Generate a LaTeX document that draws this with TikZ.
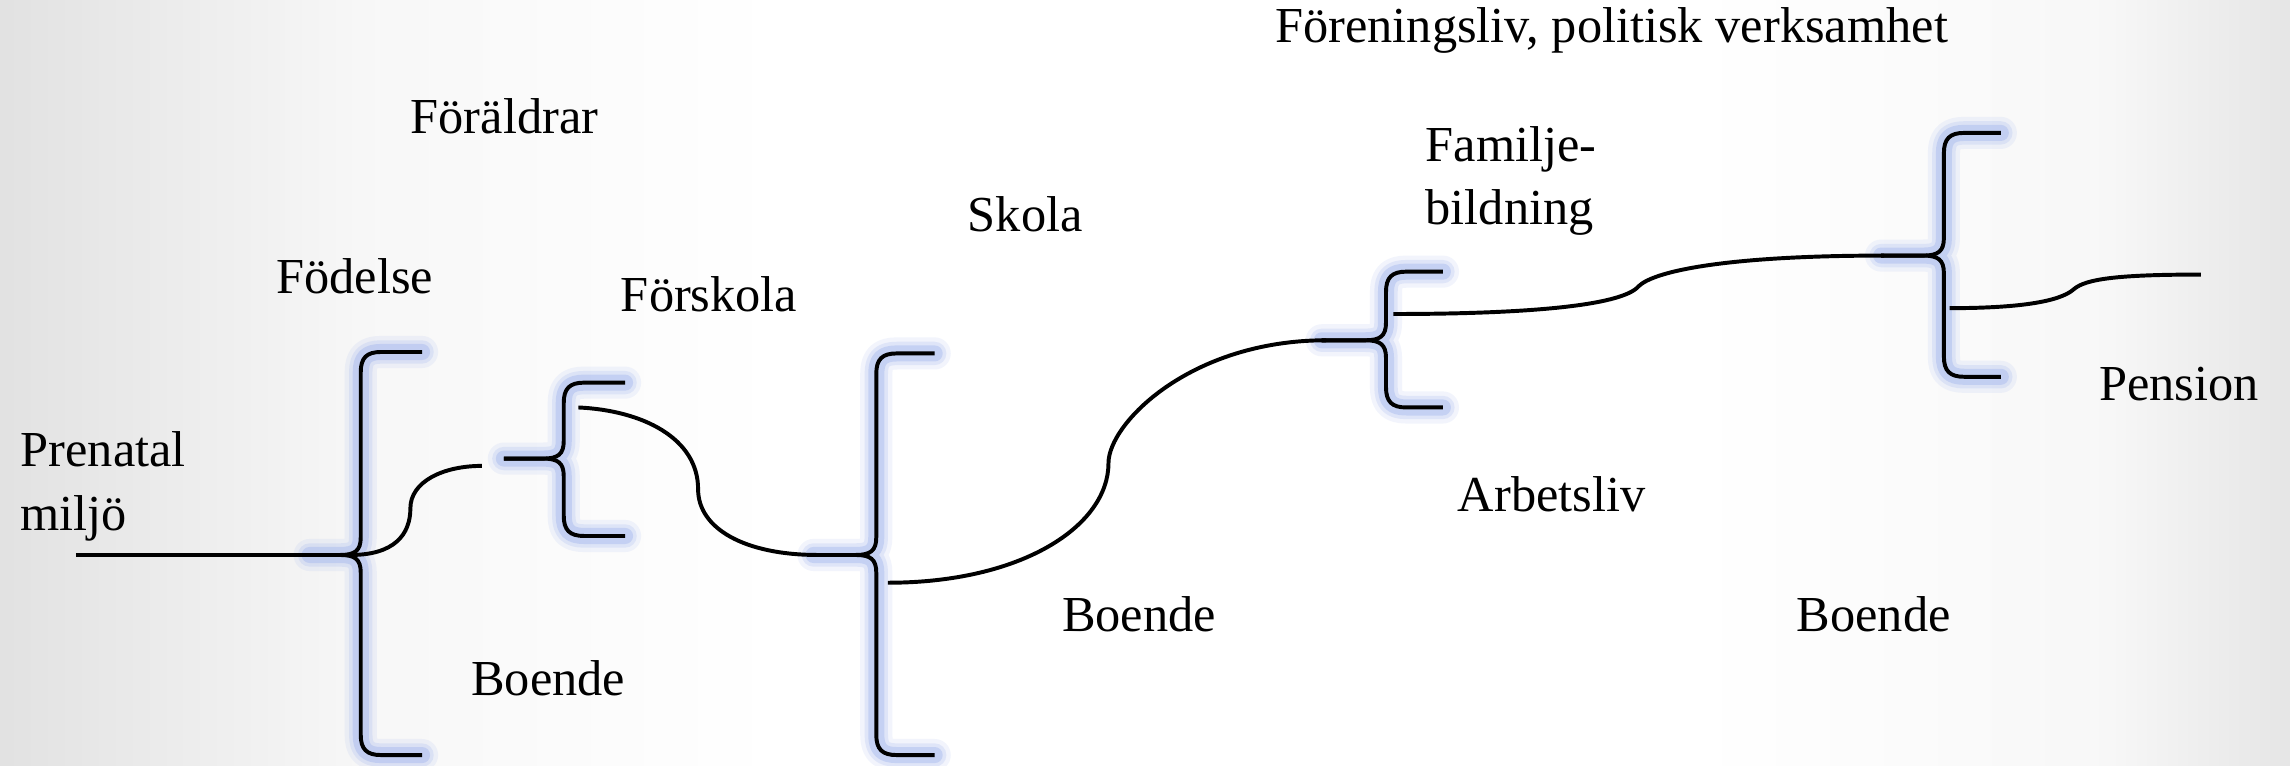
\documentclass[tikz,border=0pt]{standalone}
\usepackage{fontspec}
\setmainfont{Liberation Serif}
\definecolor{bgl}{gray}{0.885}
\definecolor{bgm}{gray}{0.97}
\definecolor{bgr}{gray}{0.9}
\definecolor{glowc}{RGB}{150,172,236}
\pgfdeclarehorizontalshading{bgshade}{100bp}{color(0bp)=(bgl); color(25bp)=(bgl); color(33bp)=(bgm); color(42bp)=(white); color(62bp)=(white); color(71bp)=(bgm); color(75bp)=(bgr); color(100bp)=(bgr)}
\tikzset{
  lbl/.style={anchor=base west, inner sep=0pt, font=\fontsize{34.5}{43}\selectfont},
  conn/.style={draw=black, line width=2.7pt},
  glowline/.style={draw=glowc, line cap=round, line join=round}
}
\newcommand\lifebrace[6]{%
  \foreach \w/\o in {22/0.12, 16/0.2, 11/0.35}{%
    \draw[glowline, line width=\w pt, opacity=\o]
      (#5,#2) -- ({#1+14},#2) .. controls ({#1+4},#2) and (#1,{#2+4}) .. (#1,{#2+14})
      -- (#1,{#3-12}) .. controls (#1,{#3-3}) and ({#1-4},#3) .. ({#1-14},#3) -- (#6,#3)
      -- ({#1-14},#3) .. controls ({#1-4},#3) and (#1,{#3+3}) .. (#1,{#3+12})
      -- (#1,{#4-14}) .. controls (#1,{#4-4}) and ({#1+4},#4) .. ({#1+14},#4) -- (#5,#4);}
  \draw[conn]
      (#5,#2) -- ({#1+14},#2) .. controls ({#1+4},#2) and (#1,{#2+4}) .. (#1,{#2+14})
      -- (#1,{#3-12}) .. controls (#1,{#3-3}) and ({#1-4},#3) .. ({#1-14},#3) -- (#6,#3);
  \draw[conn]
      (#6,#3) -- ({#1-14},#3) .. controls ({#1-4},#3) and (#1,{#3+3}) .. (#1,{#3+12})
      -- (#1,{#4-14}) .. controls (#1,{#4-4}) and ({#1+4},#4) .. ({#1+14},#4) -- (#5,#4);
}
\begin{document}
\begin{tikzpicture}[x=1pt, y=-1pt]
\useasboundingbox (0,0) rectangle (1568,524);
\shade[shading=bgshade] (0,0) rectangle (1568,524);

% braces: x, top, cusp, bottom, arm tip x, cusp tip x
\lifebrace{247}{241}{380}{517}{289}{212}
\lifebrace{386}{262}{314}{367}{428}{345}
\lifebrace{600}{242}{380}{517}{640}{557}
\lifebrace{949}{186}{233}{279}{988}{905}
\lifebrace{1331}{91}{175}{258}{1370}{1288}

% connector end points
\coordinate (pre) at (52,380);
\coordinate (b1) at (212,380);
\coordinate (b1out) at (240,380);
\coordinate (b2in) at (330,319);
\coordinate (b2out) at (396,279);
\coordinate (b3in) at (560,380);
\coordinate (b3out) at (608,399);
\coordinate (b4in) at (908,233);
\coordinate (b4out) at (954,215);
\coordinate (b5in) at (1290,175);
\coordinate (b5out) at (1335,211);
\coordinate (fin) at (1507,188);

\draw[conn] (pre) -- (b1);
\draw[conn] (b1out) .. controls (270,380) and (281,366) .. (281,348)
  .. controls (281,330) and (303,319) .. (b2in);
\draw[conn] (b2out) .. controls (440,281) and (478,300) .. (478,335)
  .. controls (478,362) and (510,380) .. (b3in);
\draw[conn] (b3out) .. controls (700,399) and (759,360) .. (759,317)
  .. controls (759,290) and (815,233) .. (b4in);
\draw[conn] (b4out) .. controls (1040,215) and (1110,210) .. (1122,196)
  .. controls (1132,186) and (1180,175) .. (b5in);
\draw[conn] (b5out) .. controls (1380,211) and (1410,207) .. (1420,198)
  .. controls (1428,191) and (1450,188) .. (fin);

% labels
\node[lbl] (prenatal) at (14,319.5) {Prenatal};
\node[lbl] (miljo) at (14,363) {miljö};
\node[lbl] (fodelse) at (189,200.8) {Födelse};
\node[lbl] (foraldrar) at (281,91.3) {Föräldrar};
\node[lbl] (forskola) at (425,213) {Förskola};
\node[lbl] (skola) at (662.5,158.6) {Skola};
\node[lbl] (boende1) at (322.5,475.9) {Boende};
\node[lbl] (boende2) at (727,432.5) {Boende};
\node[lbl] (forening) at (873,29.2) {Föreningsliv, politisk verksamhet};
\node[lbl] (familje) at (976,110.7) {Familje-};
\node[lbl] (bildning) at (976,154) {bildning};
\node[lbl] (arbetsliv) at (998,350) {Arbetsliv};
\node[lbl] (boende3) at (1230,432.5) {Boende};
\node[lbl] (pension) at (1437,274) {Pension};
\end{tikzpicture}
\end{document}
